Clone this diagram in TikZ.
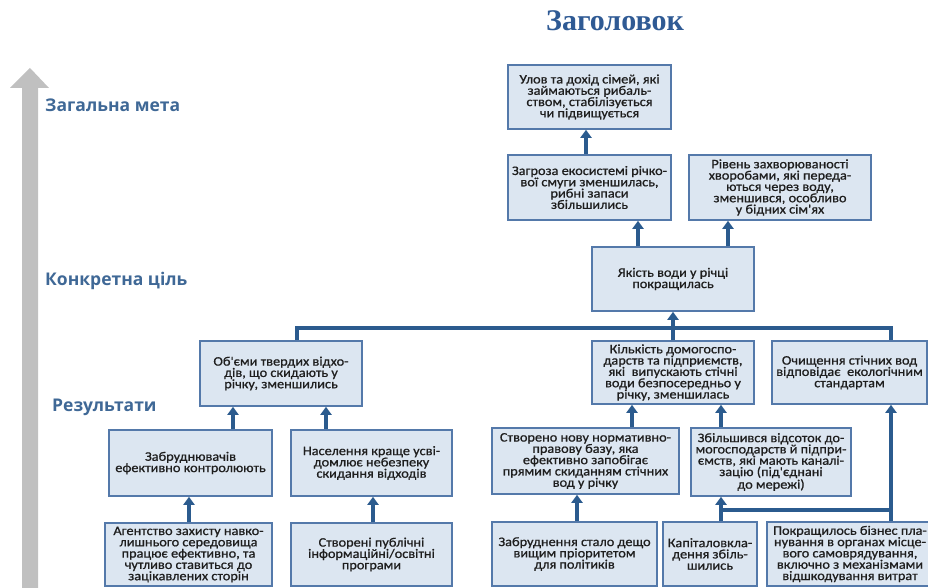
\documentclass[tikz,border=0pt]{standalone}
\usepackage{fontspec}
\usetikzlibrary{arrows.meta}
\newfontfamily\boxfontfam[FakeStretch=1.1,FakeBold=0.8]{Carlito}
\newfontfamily\lblfontfam{Open Sans}
\newfontfamily\titlefontfam{Liberation Serif}
\definecolor{boxfill}{HTML}{DCE6F1}
\definecolor{boxborder}{HTML}{5479AA}
\definecolor{arrowc}{HTML}{2B5B8E}
\definecolor{lblc}{HTML}{3F6896}
\definecolor{titlec}{HTML}{2F5A94}
\definecolor{txtc}{HTML}{1E1E1E}
\definecolor{grayarr}{HTML}{C0C0C0}
\tikzset{
  bx/.style={draw=boxborder, fill=boxfill, line width=1.6pt, align=center,
    inner sep=1pt, text=txtc, font=\boxfontfam\fontsize{13}{11.3}\selectfont},
  ar/.style={draw=arrowc, line width=3.2pt, -{Triangle[width=11pt,length=8pt]}},
  ln/.style={draw=arrowc, line width=3.2pt},
  lbl/.style={anchor=base west, text=lblc, inner sep=0pt, font=\lblfontfam\bfseries\fontsize{17.5}{20}\selectfont},
}
\begin{document}
\begin{tikzpicture}[x=1pt,y=-1pt]
\useasboundingbox (0,0) rectangle (928,588);
% gray vertical arrow
\fill[grayarr] (22,600) -- (22,88) -- (10,88) -- (30,68) -- (49,88) -- (38,88) -- (38,600) -- cycle;
% title and level labels
\node[anchor=base, text=titlec, inner sep=0pt, font=\titlefontfam\bfseries\fontsize{30}{34}\selectfont] (title) at (615,31) {Заголовок};
\node[lbl] (l1) at (45,112) {Загальна мета};
\node[lbl] (l2) at (45,285) {Конкретна ціль};
\node[lbl] (l3) at (52,411) {Результати};
% boxes
\node[bx, minimum width=163pt, minimum height=64pt] (B1) at (589.5,97) {Улов та дохід сімей, які\\займаються рибаль-\\ством, стабілізується\\чи підвищується};
\node[bx, minimum width=163pt, minimum height=65pt] (B2) at (589.5,187.5) {Загроза екосистемі річко-\\вої смуги зменшилась,\\рибні запаси\\збільшились};
\node[bx, minimum width=182pt, minimum height=65pt] (B3) at (780,187.5) {Рівень захворюваності\\хворобами, які переда-\\ються через воду,\\зменшився, особливо\\у бідних сім'ях};
\node[bx, minimum width=162pt, minimum height=64pt] (B4) at (673,279) {Якість води у річці\\покращилась};
\node[bx, minimum width=162pt, minimum height=65pt] (B5) at (281,373.5) {Об'єми твердих відхо-\\дів, що скидають у\\річку, зменшились};
\node[bx, minimum width=162pt, minimum height=63pt] (B6) at (673,372.5) {Кількість домогоспо-\\дарств та підприємств,\\які~ випускають стічні\\води безпосередньо у\\річку, зменшилась};
\node[bx, minimum width=155pt, minimum height=63pt] (B7) at (849.5,372.5) {Очищення стічних вод\\відповідає~ екологічним\\стандартам};
\node[bx, minimum width=163pt, minimum height=66pt] (B8) at (190.5,463) {Забруднювачів\\ефективно контролюють};
\node[bx, minimum width=161pt, minimum height=66pt] (B9) at (371.5,463) {Населення краще усві-\\домлює небезпеку\\скидання відходів};
\node[bx, minimum width=187pt, minimum height=66pt] (B10) at (585.5,461) {Створено нову нормативно-\\правову базу, яка\\ефективно запобігає\\прямим скиданням стічних\\вод у річку};
\node[bx, minimum width=160pt, minimum height=68pt] (B11) at (771,462) {Збільшився відсоток до-\\могосподарств й підпри-\\ємств, які мають каналі-\\зацію (під'єднані\\до мережі)};
\node[bx, minimum width=167pt, minimum height=63pt] (B12) at (188.5,554.5) {Агентство захисту навко-\\лишнього середовища\\працює ефективно, та\\чутливо ставиться до\\зацікавлених сторін};
\node[bx, minimum width=161pt, minimum height=63pt] (B13) at (371.5,554.5) {Створені публічні\\інформаційні/освітні\\програми};
\node[bx, minimum width=165pt, minimum height=64pt] (B14) at (574.5,554) {Забруднення стало дещо\\вищим пріоритетом\\для політиків};
\node[bx, minimum width=94pt, minimum height=64pt] (B15) at (710,554) {Капіталовкла-\\дення збіль-\\шились};
\node[bx, minimum width=166pt, minimum height=64pt] (B16) at (850,554) {Покращилось бізнес пла-\\нування в органах місце-\\вого самоврядування,\\включно з механізмами\\відшкодування витрат};
% column / row coordinates
\coordinate (c586) at (586,0);
\coordinate (c638) at (638,0);
\coordinate (c728) at (728,0);
\coordinate (c673) at (673,0);
\coordinate (c297) at (297,0);
\coordinate (c891) at (891,0);
\coordinate (c233) at (233,0);
\coordinate (c326) at (326,0);
\coordinate (c632) at (632,0);
\coordinate (c721) at (721,0);
\coordinate (c189) at (189,0);
\coordinate (c373) at (373,0);
\coordinate (c577) at (577,0);
\coordinate (bus) at (0,328);
\coordinate (jn) at (0,510);
% connectors
\draw[ar] (B2.north -| c586) -- (B1.south -| c586);
\draw[ar] (B4.north -| c638) -- (B2.south -| c638);
\draw[ar] (B4.north -| c728) -- (B3.south -| c728);
\draw[ln] (B5.north -| c297) -- (bus -| c297) -- (bus -| c891) -- (B7.north -| c891);
\draw[ar] (B6.north -| c673) -- (B4.south -| c673);
\draw[ar] (B8.north -| c233) -- (B5.south -| c233);
\draw[ar] (B9.north -| c326) -- (B5.south -| c326);
\draw[ar] (B10.north -| c632) -- (B6.south -| c632);
\draw[ar] (B11.north -| c721) -- (B6.south -| c721);
\draw[ar] (B12.north -| c189) -- (B8.south -| c189);
\draw[ar] (B13.north -| c373) -- (B9.south -| c373);
\draw[ar] (B14.north -| c577) -- (B10.south -| c577);
\draw[ar] (B15.north -| c721) -- (B11.south -| c721);
\draw[ar] (B16.north -| c891) -- (B7.south -| c891);
\draw[ln] (jn -| c891) -- (jn -| c721);
\end{tikzpicture}
\end{document}
